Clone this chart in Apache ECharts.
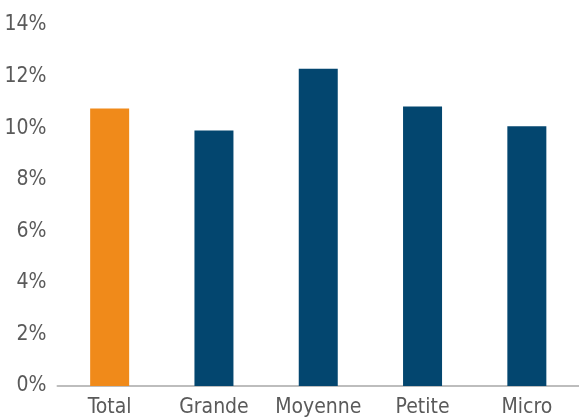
<!DOCTYPE html>
<html>
<head>
<meta charset="utf-8">
<script src="https://cdn.jsdelivr.net/npm/echarts@6/dist/echarts.min.js"></script>
<style>
  html, body { margin: 0; padding: 0; background: #fff; }
  #chart { width: 579px; height: 418px; }
</style>
</head>
<body>
<div id="chart"></div>
<script>
// catégories et valeurs (%)
const categories = ['Total', 'Grande', 'Moyenne', 'Petite', 'Micro']
const values = [10.76, 9.91, 12.30, 10.84, 10.07]
const barColors = ['#f08a1a', '#03466f', '#03466f', '#03466f', '#03466f']

const fontFamily = '"DejaVu Sans Condensed", Roboto, sans-serif'

const chart = echarts.init(document.getElementById('chart'))
chart.setOption({
  animation: false,
  grid: { left: 57.5, right: -8.5, top: 25, bottom: 30, containLabel: false },
  xAxis: {
    type: 'category',
    data: categories,
    axisLine: { lineStyle: { color: '#bdbdbd', width: 2 } },
    axisTick: { show: false },
    axisLabel: { interval: 0, color: '#5a5a5a', fontSize: 21, fontFamily, margin: 11 }
  },
  yAxis: {
    type: 'value',
    min: 0,
    max: 14,
    interval: 2,
    splitLine: { show: false },
    axisLine: { show: false },
    axisTick: { show: false },
    axisLabel: { color: '#5a5a5a', fontSize: 21, fontFamily, margin: 11, formatter: '{value}%' }
  },
  series: [{
    type: 'bar',
    barWidth: 39,
    data: values.map((v, i) => ({ value: v, itemStyle: { color: barColors[i] } }))
  }]
})
</script>
</body>
</html>
